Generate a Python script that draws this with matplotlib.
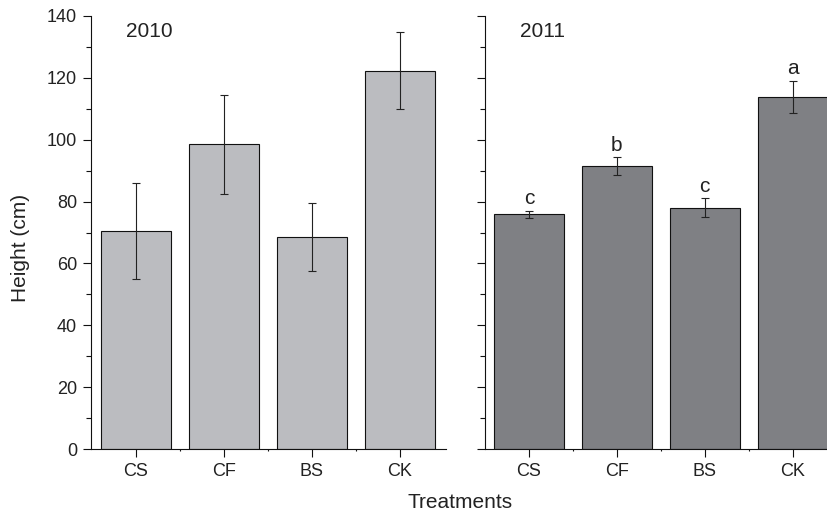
import matplotlib.pyplot as plt
from matplotlib.ticker import MultipleLocator, FixedLocator

plt.rcParams['font.family'] = ['Liberation Sans', 'DejaVu Sans']

treatments = ['CS', 'CF', 'BS', 'CK']
height_2010 = [70.5, 98.5, 68.7, 122.3]
err_2010 = [15.5, 16.0, 11.0, 12.5]
height_2011 = [75.9, 91.5, 78.0, 113.8]
err_2011 = [1.2, 2.8, 3.0, 5.2]
letters_2011 = ['c', 'b', 'c', 'a']

fig = plt.figure(figsize=(8.27, 5.15), dpi=100)
ax1 = fig.add_axes([0.110, 0.128, 0.429, 0.841])
ax2 = fig.add_axes([0.5865, 0.128, 0.4135, 0.841])

x = list(range(len(treatments)))
txt = '#222222'


def style(ax):
    ax.set_ylim(0, 140)
    ax.yaxis.set_major_locator(MultipleLocator(20))
    ax.yaxis.set_minor_locator(MultipleLocator(10))
    ax.set_xticks(x)
    ax.set_xticklabels(treatments)
    ax.xaxis.set_minor_locator(FixedLocator([0.5, 1.5, 2.5]))
    ax.spines['top'].set_visible(False)
    ax.spines['right'].set_visible(False)
    for s in ('left', 'bottom'):
        ax.spines[s].set_linewidth(0.8)
        ax.spines[s].set_color('#111111')
    ax.tick_params(which='major', direction='out', length=6, width=0.8,
                   labelsize=13, labelcolor=txt, color='#111111', pad=4)
    ax.tick_params(which='minor', direction='out', length=3.5, width=0.8,
                   color='#111111')
    ax.tick_params(axis='x', which='minor', length=1.5)


ax1.bar(x, height_2010, width=0.8, color='#bbbcc0', edgecolor='#111111',
        linewidth=0.8, zorder=2)
ax1.errorbar(x, height_2010, yerr=err_2010, fmt='none', ecolor='#222222',
             elinewidth=0.8, capsize=3, capthick=0.8, zorder=3)
ax1.set_xlim(-0.51, 3.52)
style(ax1)
ax1.set_ylabel('Height (cm)', fontsize=15, color=txt)
ax1.yaxis.set_label_coords(-0.172, 0.464)
ax1.text(0.165, 0.965, '2010', transform=ax1.transAxes, fontsize=15,
         color=txt, ha='center', va='center')

ax2.bar(x, height_2011, width=0.8, color='#7f8084', edgecolor='#111111',
        linewidth=0.8, zorder=2)
ax2.errorbar(x, height_2011, yerr=err_2011, fmt='none', ecolor='#222222',
             elinewidth=0.8, capsize=3, capthick=0.8, zorder=3)
for xi, h, e, lab in zip(x, height_2011, err_2011, letters_2011):
    ax2.text(xi, h + e + 0.8, lab, fontsize=15, color=txt,
             ha='center', va='bottom')
ax2.set_xlim(-0.5, 3.39)
style(ax2)
ax2.set_yticklabels([])
ax2.text(0.167, 0.965, '2011', transform=ax2.transAxes, fontsize=15,
         color=txt, ha='center', va='center')

fig.text(0.556, 0.025, 'Treatments', fontsize=15, color=txt,
         ha='center', va='center')

fig.savefig('out.png', dpi=100)
